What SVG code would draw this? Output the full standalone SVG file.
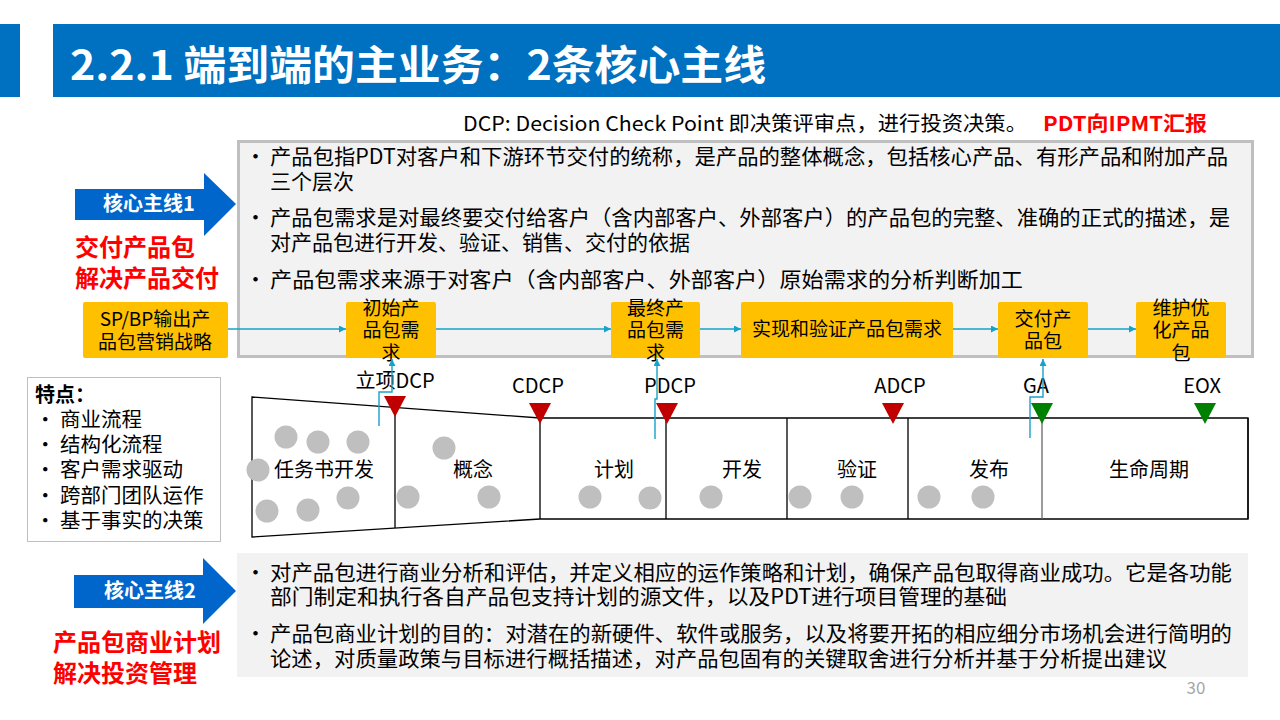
<svg xmlns="http://www.w3.org/2000/svg" width="1280" height="720" viewBox="0 0 1280 720">
<defs>
<style>
text{font-family:"Noto Sans CJK SC","Microsoft YaHei",sans-serif;}
.t21{font-size:21px;fill:#000;}
.box{fill:#ffc000;}
.bt{font-size:19px;fill:#000;text-anchor:middle;}
.tl{font-size:20px;fill:#000;text-anchor:middle;}
.lbl{font-size:20px;fill:#000;text-anchor:middle;}
.ln{stroke:#000;stroke-width:1.3;fill:none;}
.dot{fill:#bfbfbf;}
.con{stroke:#17a2c9;stroke-width:1.4;fill:none;}
.red{fill:#c00000;}
.grn{fill:#008000;}
.rt{font-size:24px;font-weight:bold;fill:#ff0000;}
.at{font-size:20px;font-weight:bold;fill:#fff;text-anchor:middle;}
</style>
<marker id="ah" viewBox="0 0 10 10" refX="10" refY="5" markerWidth="7" markerHeight="7" markerUnits="userSpaceOnUse" orient="auto"><path d="M0,0 L10,5 L0,10 z" fill="#17a2c9"/></marker>
</defs>
<rect width="1280" height="720" fill="#fff"/>

<g id="title">
<rect x="0" y="24" width="20" height="73" fill="#0070c0"/>
<rect x="53" y="24" width="1227" height="73" fill="#0070c0"/>
<text x="70" y="80" font-size="41" font-weight="bold" fill="#fff" textLength="696" lengthAdjust="spacingAndGlyphs">2.2.1 端到端的主业务：2条核心主线</text>
</g>

<g id="dcp-note">
<text x="463" y="131" font-size="20.5" fill="#000" textLength="564" lengthAdjust="spacingAndGlyphs">DCP: Decision Check Point 即决策评审点，进行投资决策。</text>
<text x="1043" y="131" font-size="20.5" font-weight="bold" fill="#ff0000" textLength="164" lengthAdjust="spacingAndGlyphs">PDT向IPMT汇报</text>
</g>

<g id="top-panel">
<rect x="238.5" y="141.5" width="1014" height="215" fill="#f2f2f2" stroke="#bfbfbf" stroke-width="3"/>
<text x="245" y="164" class="t21">•</text>
<text x="270" y="164" class="t21" textLength="958" lengthAdjust="spacingAndGlyphs">产品包指PDT对客户和下游环节交付的统称，是产品的整体概念，包括核心产品、有形产品和附加产品</text>
<text x="270" y="189" class="t21">三个层次</text>
<text x="245" y="225" class="t21">•</text>
<text x="270" y="225" class="t21" textLength="960" lengthAdjust="spacingAndGlyphs">产品包需求是对最终要交付给客户（含内部客户、外部客户）的产品包的完整、准确的正式的描述，是</text>
<text x="270" y="250" class="t21">对产品包进行开发、验证、销售、交付的依据</text>
<text x="245" y="287" class="t21">•</text>
<text x="270" y="287" class="t21" textLength="753" lengthAdjust="spacingAndGlyphs">产品包需求来源于对客户（含内部客户、外部客户）原始需求的分析判断加工</text>
</g>

<g id="mainline1">
<polygon points="75,189 204,189 204,173 236,204 204,236 204,220 75,220" fill="#0066cc"/>
<text x="149" y="211" class="at">核心主线1</text>
<text x="75" y="256" class="rt">交付产品包</text>
<text x="75" y="287" class="rt">解决产品交付</text>
</g>

<g id="node-spbp">
<rect x="83" y="302" width="145" height="56" rx="2" class="box"/>
<text x="155" y="326" class="bt">SP/BP输出产</text>
<text x="155" y="349" class="bt">品包营销战略</text>
</g>
<g id="node-initial">
<rect x="346" y="302" width="90" height="56" rx="2" class="box"/>
<text x="391" y="315" class="bt">初始产</text>
<text x="391" y="337" class="bt">品包需</text>
<text x="391" y="360" class="bt">求</text>
</g>
<g id="node-final">
<rect x="611" y="302" width="89" height="56" rx="2" class="box"/>
<text x="655.5" y="315" class="bt">最终产</text>
<text x="655.5" y="337" class="bt">品包需</text>
<text x="655.5" y="360" class="bt">求</text>
</g>
<g id="node-verify">
<rect x="741" y="302" width="212" height="56" rx="2" class="box"/>
<text x="847" y="336" class="bt">实现和验证产品包需求</text>
</g>
<g id="node-deliver">
<rect x="998" y="302" width="90" height="56" rx="2" class="box"/>
<text x="1043" y="326" class="bt">交付产</text>
<text x="1043" y="348" class="bt">品包</text>
</g>
<g id="node-maintain">
<rect x="1136" y="302" width="90" height="56" rx="2" class="box"/>
<text x="1181" y="315" class="bt">维护优</text>
<text x="1181" y="337" class="bt">化产品</text>
<text x="1181" y="360" class="bt">包</text>
</g>

<g id="features">
<rect x="27.5" y="377.5" width="193" height="164" fill="#fff" stroke="#bfbfbf" stroke-width="1"/>
<text x="35" y="402" font-size="20" font-weight="bold" fill="#000">特点：</text>
<g font-size="20.5" fill="#000">
<text x="35" y="427">•</text><text x="60" y="427">商业流程</text>
<text x="35" y="452">•</text><text x="60" y="452">结构化流程</text>
<text x="35" y="477">•</text><text x="60" y="477">客户需求驱动</text>
<text x="35" y="503">•</text><text x="60" y="503">跨部门团队运作</text>
<text x="35" y="528">•</text><text x="60" y="528">基于事实的决策</text>
</g>
</g>

<g id="timeline">
<path class="ln" d="M252,397 L540,418 L1248,418 L1248,519 L540,519 L252,537 Z"/>
<path class="ln" d="M395,407 V528 M540,418 V519 M666,418 V519 M787,418 V519 M908,418 V519 M1248,418 V519"/>
<path d="M1042,418 V519" stroke="#666" stroke-width="1.3"/>
<g>
<circle class="dot" cx="286" cy="437" r="11.5"/>
<circle class="dot" cx="318" cy="442" r="11.5"/>
<circle class="dot" cx="358" cy="442" r="11.5"/>
<circle class="dot" cx="258" cy="470" r="11.5"/>
<circle class="dot" cx="267" cy="511" r="11.5"/>
<circle class="dot" cx="308" cy="510" r="11.5"/>
<circle class="dot" cx="348" cy="498" r="11.5"/>
<circle class="dot" cx="444" cy="448" r="11.5"/>
<circle class="dot" cx="408" cy="497" r="11.5"/>
<circle class="dot" cx="489" cy="497" r="11.5"/>
<circle class="dot" cx="590" cy="497" r="11.5"/>
<circle class="dot" cx="650" cy="498" r="11.5"/>
<circle class="dot" cx="711" cy="497" r="11.5"/>
<circle class="dot" cx="800" cy="497" r="11.5"/>
<circle class="dot" cx="852" cy="497" r="11.5"/>
<circle class="dot" cx="929" cy="497" r="11.5"/>
<circle class="dot" cx="983" cy="497" r="11.5"/>
</g>
<text x="324" y="477" class="tl">任务书开发</text>
<text x="473" y="477" class="tl">概念</text>
<text x="614" y="477" class="tl">计划</text>
<text x="742" y="477" class="tl">开发</text>
<text x="857" y="477" class="tl">验证</text>
<text x="989" y="477" class="tl">发布</text>
<text x="1149" y="477" class="tl">生命周期</text>
</g>

<g id="milestones">
<polygon class="red" points="384,396 406,396 395,417"/>
<polygon class="red" points="529,403 551,403 540,424"/>
<polygon class="red" points="656,403 678,403 667,424"/>
<polygon class="red" points="882,403 904,403 893,424"/>
<polygon class="grn" points="1031,403 1053,403 1042,424"/>
<polygon class="grn" points="1194,403 1216,403 1205,424"/>
<text x="395" y="388" class="lbl">立项DCP</text>
<text x="538" y="393" class="lbl">CDCP</text>
<text x="670" y="393" class="lbl">PDCP</text>
<text x="900" y="393" class="lbl">ADCP</text>
<text x="1036" y="393" class="lbl">GA</text>
<text x="1202" y="393" class="lbl">EOX</text>
</g>

<g id="connectors">
<path class="con" d="M228,329 H346" marker-end="url(#ah)"/>
<path class="con" d="M436,329 H611" marker-end="url(#ah)"/>
<path class="con" d="M700,329 H741" marker-end="url(#ah)"/>
<path class="con" d="M953,329 H998" marker-end="url(#ah)"/>
<path class="con" d="M1088,329 H1136" marker-end="url(#ah)"/>
<path class="con" d="M379,426 V392 H392 V359" marker-end="url(#ah)"/>
<path class="con" d="M655,439 V399 H657 V359" marker-end="url(#ah)"/>
<path class="con" d="M1030,438 V397 H1043 V359" marker-end="url(#ah)"/>
</g>

<g id="mainline2">
<polygon points="74,575 203,575 203,558 236,591 203,624 203,608 74,608" fill="#0066cc"/>
<text x="150" y="598" class="at">核心主线2</text>
<text x="53" y="651" class="rt">产品包商业计划</text>
<text x="53" y="682" class="rt">解决投资管理</text>
</g>

<g id="bottom-panel">
<rect x="237" y="553" width="1011" height="124" fill="#f2f2f2"/>
<text x="245" y="580" class="t21">•</text>
<text x="270" y="580" class="t21" textLength="962" lengthAdjust="spacingAndGlyphs">对产品包进行商业分析和评估，并定义相应的运作策略和计划，确保产品包取得商业成功。它是各功能</text>
<text x="270" y="604" class="t21" textLength="737" lengthAdjust="spacingAndGlyphs">部门制定和执行各自产品包支持计划的源文件，以及PDT进行项目管理的基础</text>
<text x="245" y="641" class="t21">•</text>
<text x="270" y="641" class="t21" textLength="962" lengthAdjust="spacingAndGlyphs">产品包商业计划的目的：对潜在的新硬件、软件或服务，以及将要开拓的相应细分市场机会进行简明的</text>
<text x="270" y="666" class="t21" textLength="897" lengthAdjust="spacingAndGlyphs">论述，对质量政策与目标进行概括描述，对产品包固有的关键取舍进行分析并基于分析提出建议</text>
</g>

<text x="1196" y="694" font-size="17" fill="#a6a6a6" text-anchor="middle">30</text>
</svg>
